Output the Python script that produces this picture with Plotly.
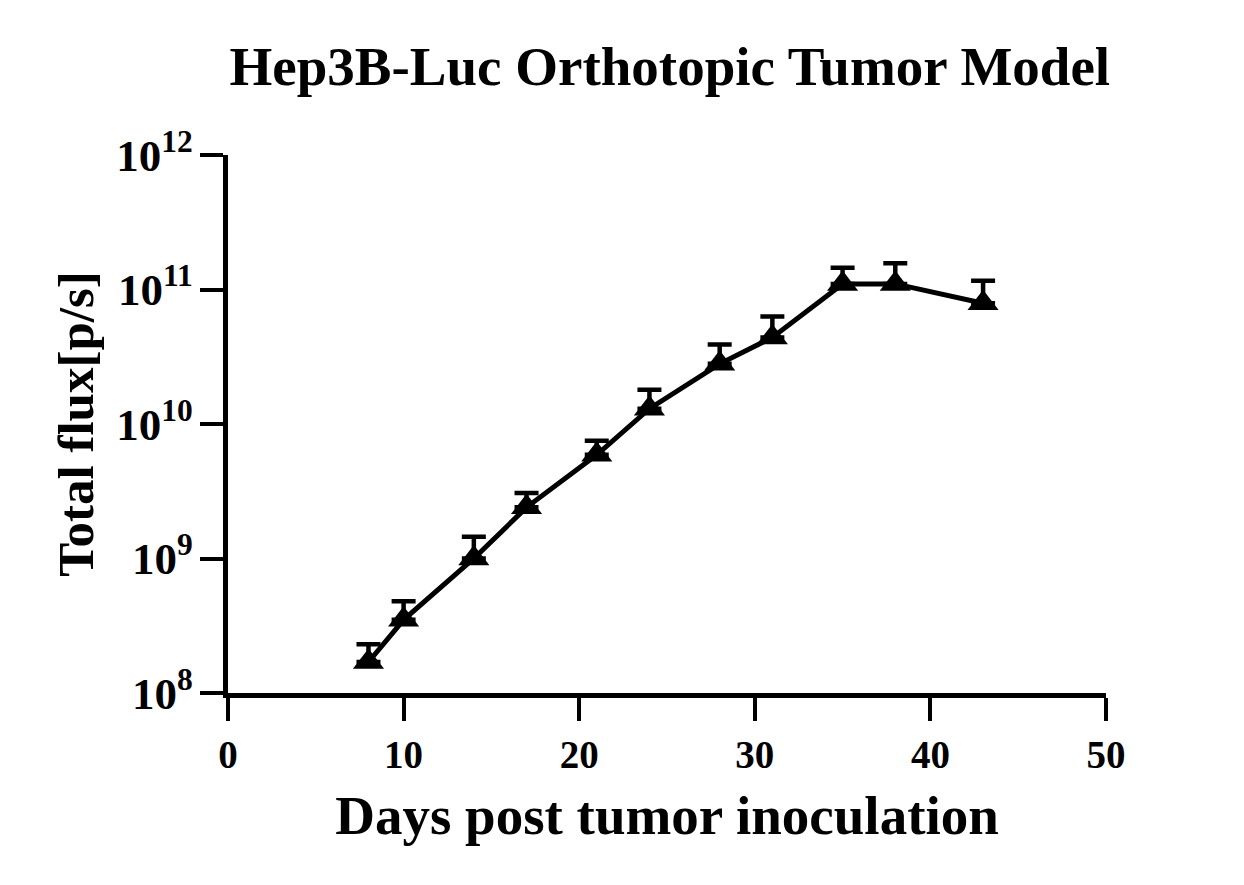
import plotly.graph_objects as go

# days after inoculation, mean total flux and upper error (mean + SEM)
days = [8, 10, 14, 17, 21, 24, 28, 31, 35, 38, 43]
flux = [1.7e8, 3.5e8, 1.0e9, 2.4e9, 5.9e9, 1.3e10, 2.8e10, 4.4e10, 1.1e11, 1.1e11, 7.9e10]
flux_top = [2.3e8, 4.8e8, 1.45e9, 3.07e9, 7.5e9, 1.8e10, 3.9e10, 6.3e10, 1.45e11, 1.57e11, 1.16e11]

err_up = [t - f for t, f in zip(flux_top, flux)]

font_family = "Liberation Serif"

fig = go.Figure(go.Scatter(
    x=days,
    y=flux,
    mode='lines+markers',
    line=dict(color='black', width=5),
    marker=dict(symbol='triangle-up', size=27, color='black'),
    error_y=dict(type='data', symmetric=False, array=err_up,
                 arrayminus=[0] * len(days), color='black',
                 thickness=4.5, width=12),
    showlegend=False,
))

fig.update_layout(
    width=1244, height=885,
    margin=dict(l=220, r=146, t=147, b=200),
    paper_bgcolor='white', plot_bgcolor='white',
    font=dict(family=font_family, color='black'),
    title=dict(text='<b>Hep3B-Luc Orthotopic Tumor Model</b>',
               x=0.532, xanchor='center', y=0.935, yanchor='middle',
               font=dict(size=55, family=font_family, color='black')),
    xaxis=dict(
        range=[0, 50], tickvals=[0, 10, 20, 30, 40, 50],
        showgrid=False, zeroline=False,
        showline=True, linecolor='black', linewidth=5,
        ticks='outside', ticklen=23, tickwidth=4, tickcolor='black',
        tickfont=dict(size=39, family=font_family, color='black', weight='bold'),
        title=dict(text='<b>Days post tumor inoculation</b>', standoff=22,
                   font=dict(size=55, family=font_family, color='black')),
    ),
    yaxis=dict(
        type='log', range=[8, 12], dtick=1, exponentformat='power',
        showgrid=False, zeroline=False,
        showline=True, linecolor='black', linewidth=5,
        ticks='outside', ticklen=23, tickwidth=4, tickcolor='black',
        tickfont=dict(size=36, family=font_family, color='black', weight='bold'),
        title=dict(text='<b>Total flux[p/s]</b>', standoff=8,
                   font=dict(size=51, family=font_family, color='black')),
    ),
)

fig.write_html("out.html")
